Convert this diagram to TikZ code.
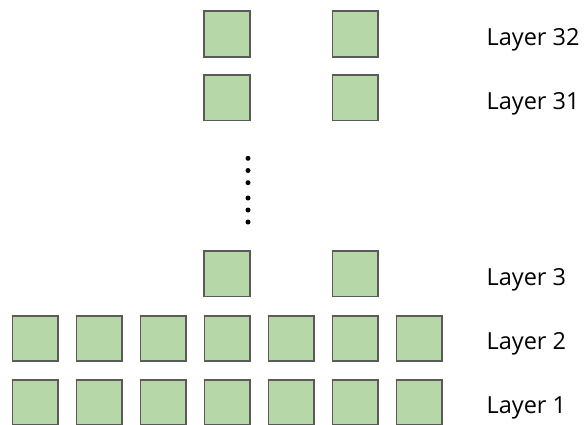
\documentclass[tikz,border=0pt]{standalone}
\usepackage{fontspec}
\setmainfont{Open Sans}
\definecolor{boxfill}{HTML}{B6D7A8}
\definecolor{boxline}{HTML}{5A5A5A}
\tikzset{
  cell/.style={draw=boxline, fill=boxfill, line width=1.8pt, minimum width=45.6pt, minimum height=45.6pt, inner sep=0pt, outer sep=0pt},
  lab/.style={anchor=base west, font=\fontsize{23.5}{26}\selectfont, inner sep=0pt},
  dot/.style={circle, fill=black, inner sep=0pt, minimum size=5pt}
}
\begin{document}
\begin{tikzpicture}[x=1pt,y=-1pt]
\useasboundingbox (0,0) rectangle (584,424);
\foreach \r/\y in {32/34, 31/97.7, 3/273.7} {
  \node[cell] (c\r a) at (227,\y) {};
  \node[cell] (c\r b) at (355.2,\y) {};
}
\foreach \r/\y in {2/338.5, 1/402.5} {
  \foreach \i in {0,...,6} {
    \node[cell] (c\r-\i) at ({35.2+64*\i},\y) {};
  }
}
\node[lab] (l32) at (486.5,45.3) {Layer 32};
\node[lab] (l31) at (486.5,109) {Layer 31};
\node[lab] (l3) at (486.5,285) {Layer 3};
\node[lab] (l2) at (486.5,349.6) {Layer 2};
\node[lab] (l1) at (486.5,413.8) {Layer 1};
\foreach \k/\y in {1/158.3, 2/170.5, 3/182.7, 4/198, 5/210, 6/222} {
  \node[dot] (d\k) at (248,\y) {};
}
\end{tikzpicture}
\end{document}
